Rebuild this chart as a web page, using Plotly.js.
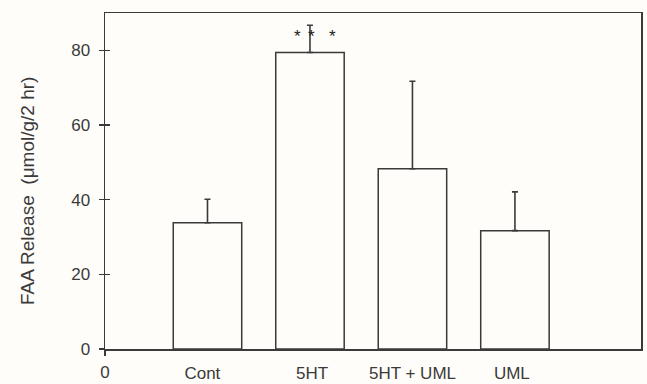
<!DOCTYPE html>
<html>
<head>
<meta charset="utf-8">
<script src="https://cdn.plot.ly/plotly-3.0.1.min.js"></script>
<style>html,body{margin:0;padding:0;background:#fffdf9;}#chart{width:647px;height:384px;}</style>
</head>
<body>
<div id="chart"></div>
<script>
const categories = ["Cont", "5HT", "5HT + UML", "UML"];
const positions = [1, 2, 3, 4];
const values = [33.8, 79.4, 48.3, 31.7];
const errors = [6.3, 7.3, 23.4, 10.4];
const yTicks = [0, 20, 40, 60, 80];
const yTitle = "FAA Release\u00a0\u00a0(\u03bcmol/g/2 hr)";

const ink = "#3a3a3a";
const fnt = {family: "Liberation Sans, Arial, sans-serif", size: 17, color: ink};

const trace = {
  type: "bar",
  x: positions,
  y: values,
  width: 0.668,
  marker: {color: "#fffdf9", line: {color: ink, width: 1.5}},
  error_y: {type: "data", array: errors, arrayminus: errors.map(() => 0), symmetric: false,
            color: ink, thickness: 1.6, width: 3},
  hoverinfo: "none",
  xaxis: "x", yaxis: "y"
};

const dummy = {type: "scatter", x: [0], y: [0], mode: "none", xaxis: "x2", yaxis: "y2", hoverinfo: "none", showlegend: false};

const annotations = [];
const i5 = 1;
[-0.117, 0.01, 0.215].forEach(dx => {
  annotations.push({x: positions[i5] + dx, y: values[i5] + 4.3, text: "*", showarrow: false, xref: "x", yref: "y",
    font: {family: fnt.family, size: 17, color: "#222"}});
});
annotations.push({
  text: yTitle, textangle: -90, showarrow: false,
  xref: "paper", yref: "paper", x: -0.1455, y: 0.47, xanchor: "center", yanchor: "middle",
  font: {family: fnt.family, size: 19, color: ink}
});

const layout = {
  width: 647, height: 384,
  margin: {l: 105, r: 6, t: 13, b: 35},
  paper_bgcolor: "#fffdf9",
  plot_bgcolor: "#fffdf9",
  showlegend: false,
  font: fnt,
  xaxis: {
    range: [0, 5.23], showgrid: false, zeroline: false,
    showline: true, linecolor: ink, linewidth: 1.5, mirror: true,
    tickmode: "array", tickvals: [0], ticktext: ["0"],
    ticks: "outside", ticklen: 5, tickcolor: ink, tickwidth: 1.2,
    tickfont: fnt, ticklabelstandoff: 2
  },
  xaxis2: {
    overlaying: "x", anchor: "y", side: "bottom",
    range: [0, 5.23], showgrid: false, zeroline: false, showline: false,
    tickmode: "array", tickvals: [0.95, 2.02, 3.0, 3.97], ticktext: categories,
    ticks: "", tickfont: fnt, ticklabelstandoff: 12
  },
  yaxis: {
    range: [0, 90], showgrid: false, zeroline: false,
    showline: true, linecolor: ink, linewidth: 1.5, mirror: true,
    tickmode: "array", tickvals: yTicks, ticktext: yTicks.map(String),
    ticks: "outside", ticklen: 5, tickcolor: ink, tickwidth: 1.2,
    tickfont: fnt, ticklabelstandoff: 5
  },
  yaxis2: {
    overlaying: "y", anchor: "x", side: "left",
    range: [0, 90], showgrid: false, zeroline: false, showline: false,
    tickmode: "array", tickvals: yTicks, showticklabels: false,
    ticks: "inside", ticklen: 5, tickcolor: ink, tickwidth: 1.2
  },
  annotations: annotations
};

Plotly.newPlot("chart", [trace, dummy], layout, {staticPlot: true, displayModeBar: false});
</script>
</body>
</html>
